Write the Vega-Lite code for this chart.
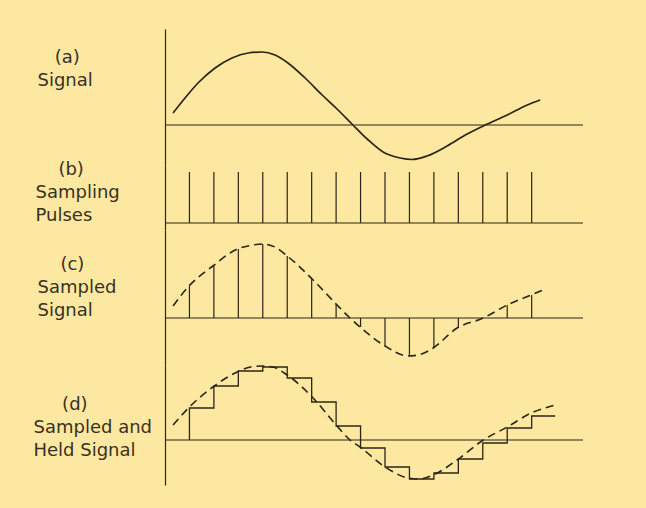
{
  "$schema": "https://vega.github.io/schema/vega-lite/v6.json",
  "background": "#fce8a0",
  "padding": {"left": 33, "top": 29, "right": 63, "bottom": 23},
  "autosize": {"type": "pad"},
  "spacing": 0,
  "bounds": "flush",
  "config": {
    "view": {"stroke": null},
    "axis": {
      "domainColor": "#2b2417",
      "domainWidth": 1.2,
      "ticks": false,
      "labels": false,
      "grid": false,
      "titleFont": "DejaVu Sans",
      "titleFontSize": 18,
      "titleFontWeight": "normal",
      "titleColor": "#3a3024",
      "titleAngle": 0,
      "titleAlign": "left",
      "titleBaseline": "alphabetic",
      "titleLineHeight": 23
    }
  },
  "datasets": {
    "baseline": [{"v": 0}],
    "signal": [
      {"t": 0.33, "v": 12}, {"t": 0.82, "v": 27}, {"t": 1.35, "v": 42}, {"t": 2.05, "v": 57},
      {"t": 2.74, "v": 67}, {"t": 3.4, "v": 72}, {"t": 3.97, "v": 73}, {"t": 4.5, "v": 70},
      {"t": 5.03, "v": 62}, {"t": 5.73, "v": 47}, {"t": 6.43, "v": 30}, {"t": 7.08, "v": 15},
      {"t": 7.65, "v": 1}, {"t": 8.27, "v": -14}, {"t": 8.92, "v": -27}, {"t": 9.62, "v": -33},
      {"t": 10.11, "v": -34.5}, {"t": 10.72, "v": -31}, {"t": 11.54, "v": -21}, {"t": 12.36, "v": -9},
      {"t": 13.1, "v": 0}, {"t": 14.0, "v": 10}, {"t": 14.82, "v": 20}, {"t": 15.35, "v": 25}
    ],
    "pulses": [
      {"t": 1, "v": 51}, {"t": 2, "v": 51}, {"t": 3, "v": 51}, {"t": 4, "v": 51}, {"t": 5, "v": 51},
      {"t": 6, "v": 51}, {"t": 7, "v": 51}, {"t": 8, "v": 51}, {"t": 9, "v": 51}, {"t": 10, "v": 51},
      {"t": 11, "v": 51}, {"t": 12, "v": 51}, {"t": 13, "v": 51}, {"t": 14, "v": 51}, {"t": 15, "v": 51}
    ],
    "sampled": [
      {"t": 1, "v": 32}, {"t": 2, "v": 52}, {"t": 3, "v": 69}, {"t": 4, "v": 74}, {"t": 5, "v": 62},
      {"t": 6, "v": 39}, {"t": 7, "v": 14}, {"t": 8, "v": -9}, {"t": 9, "v": -28}, {"t": 10, "v": -38},
      {"t": 11, "v": -30}, {"t": 12, "v": -10}, {"t": 14, "v": 13}, {"t": 15, "v": 23}
    ],
    "curveC": [
      {"t": 0.33, "v": 12}, {"t": 0.98, "v": 32}, {"t": 1.96, "v": 52}, {"t": 2.95, "v": 69},
      {"t": 3.5, "v": 72.5}, {"t": 3.97, "v": 74}, {"t": 4.5, "v": 71}, {"t": 5.0, "v": 62},
      {"t": 6.02, "v": 39}, {"t": 7.0, "v": 14}, {"t": 7.57, "v": 0}, {"t": 7.98, "v": -9},
      {"t": 9.0, "v": -28}, {"t": 9.95, "v": -38}, {"t": 10.5, "v": -36}, {"t": 10.97, "v": -30},
      {"t": 11.95, "v": -10}, {"t": 13.02, "v": 0}, {"t": 14.0, "v": 13}, {"t": 14.98, "v": 23},
      {"t": 15.55, "v": 29}
    ],
    "held": [
      {"i": 0, "t": 1, "v": 0}, {"i": 1, "t": 1, "v": 32}, {"i": 2, "t": 2, "v": 54}, {"i": 3, "t": 3, "v": 69},
      {"i": 4, "t": 4, "v": 73}, {"i": 5, "t": 5, "v": 62}, {"i": 6, "t": 6, "v": 38}, {"i": 7, "t": 7, "v": 14},
      {"i": 8, "t": 8, "v": -8}, {"i": 9, "t": 9, "v": -27}, {"i": 10, "t": 10, "v": -39}, {"i": 11, "t": 11, "v": -33},
      {"i": 12, "t": 12, "v": -19}, {"i": 13, "t": 13, "v": -3}, {"i": 14, "t": 14, "v": 12},
      {"i": 15, "t": 15, "v": 24}, {"i": 16, "t": 15.96, "v": 24}
    ],
    "curveD": [
      {"t": 0.33, "v": 15}, {"t": 1.0, "v": 33}, {"t": 1.96, "v": 53}, {"t": 2.95, "v": 68},
      {"t": 3.5, "v": 73}, {"t": 3.97, "v": 74}, {"t": 4.4, "v": 73}, {"t": 5.0, "v": 65},
      {"t": 6.02, "v": 43}, {"t": 7.0, "v": 15}, {"t": 7.57, "v": 0}, {"t": 7.98, "v": -7},
      {"t": 9.0, "v": -27}, {"t": 9.95, "v": -38}, {"t": 10.4, "v": -39}, {"t": 10.97, "v": -35},
      {"t": 11.95, "v": -20}, {"t": 13.02, "v": 0}, {"t": 14.0, "v": 13}, {"t": 14.98, "v": 27},
      {"t": 15.96, "v": 35}
    ]
  },
  "vconcat": [
    {
      "width": 418,
      "height": 136,
      "layer": [
        {
          "data": {"name": "baseline"},
          "mark": {"type": "rule", "color": "#2b2417", "strokeWidth": 1.2},
          "encoding": {
            "y": {"field": "v", "type": "quantitative", "scale": {"domain": [-40, 96], "nice": false, "zero": false},
                  "axis": {"title": ["\u200b\u00a0\u00a0\u00a0(a)", "Signal"], "titleX": -128, "titleY": 33}}
          }
        },
        {
          "data": {"name": "signal"},
          "mark": {"type": "line", "interpolate": "monotone", "color": "#2b2417", "strokeWidth": 1.7},
          "encoding": {
            "x": {"field": "t", "type": "quantitative", "scale": {"domain": [0, 17.1], "nice": false, "zero": false}, "axis": null},
            "y": {"field": "v", "type": "quantitative"}
          }
        }
      ]
    },
    {
      "width": 418,
      "height": 65,
      "layer": [
        {
          "data": {"name": "baseline"},
          "mark": {"type": "rule", "color": "#2b2417", "strokeWidth": 1.2},
          "encoding": {
            "y": {"field": "v", "type": "quantitative", "scale": {"domain": [-7, 58], "nice": false, "zero": false},
                  "axis": {"title": ["\u200b\u00a0\u00a0\u00a0\u00a0(b)", "Sampling", "Pulses"], "titleX": -130, "titleY": 9}}
          }
        },
        {
          "data": {"name": "pulses"},
          "mark": {"type": "rule", "color": "#2b2417", "strokeWidth": 1.2},
          "encoding": {
            "x": {"field": "t", "type": "quantitative", "scale": {"domain": [0, 17.1], "nice": false, "zero": false}, "axis": null},
            "y": {"field": "v", "type": "quantitative"},
            "y2": {"datum": 0}
          }
        }
      ]
    },
    {
      "width": 418,
      "height": 135,
      "layer": [
        {
          "data": {"name": "baseline"},
          "mark": {"type": "rule", "color": "#2b2417", "strokeWidth": 1.2},
          "encoding": {
            "y": {"field": "v", "type": "quantitative", "scale": {"domain": [-47, 88], "nice": false, "zero": false},
                  "axis": {"title": ["\u200b\u00a0\u00a0\u00a0\u00a0(c)", "Sampled", "Signal"], "titleX": -128, "titleY": 39}}
          }
        },
        {
          "data": {"name": "sampled"},
          "mark": {"type": "rule", "color": "#2b2417", "strokeWidth": 1.2},
          "encoding": {
            "x": {"field": "t", "type": "quantitative", "scale": {"domain": [0, 17.1], "nice": false, "zero": false}, "axis": null},
            "y": {"field": "v", "type": "quantitative"},
            "y2": {"datum": 0}
          }
        },
        {
          "data": {"name": "curveC"},
          "mark": {"type": "line", "interpolate": "monotone", "color": "#2b2417", "strokeWidth": 1.6, "strokeDash": [8, 5]},
          "encoding": {
            "x": {"field": "t", "type": "quantitative"},
            "y": {"field": "v", "type": "quantitative"}
          }
        }
      ]
    },
    {
      "width": 418,
      "height": 120,
      "layer": [
        {
          "data": {"name": "baseline"},
          "mark": {"type": "rule", "color": "#2b2417", "strokeWidth": 1.2},
          "encoding": {
            "y": {"field": "v", "type": "quantitative", "scale": {"domain": [-45, 75], "nice": false, "zero": false},
                  "axis": {"title": ["\u200b\u00a0\u00a0\u00a0\u00a0\u00a0(d)", "Sampled and", "Held Signal"], "titleX": -132, "titleY": 44}}
          }
        },
        {
          "data": {"name": "held"},
          "mark": {"type": "line", "interpolate": "step-after", "color": "#2b2417", "strokeWidth": 1.3},
          "encoding": {
            "x": {"field": "t", "type": "quantitative", "scale": {"domain": [0, 17.1], "nice": false, "zero": false}, "axis": null},
            "y": {"field": "v", "type": "quantitative"},
            "order": {"field": "i", "type": "quantitative"}
          }
        },
        {
          "data": {"name": "curveD"},
          "mark": {"type": "line", "interpolate": "monotone", "color": "#2b2417", "strokeWidth": 1.6, "strokeDash": [8, 5]},
          "encoding": {
            "x": {"field": "t", "type": "quantitative"},
            "y": {"field": "v", "type": "quantitative"}
          }
        }
      ]
    }
  ]
}
